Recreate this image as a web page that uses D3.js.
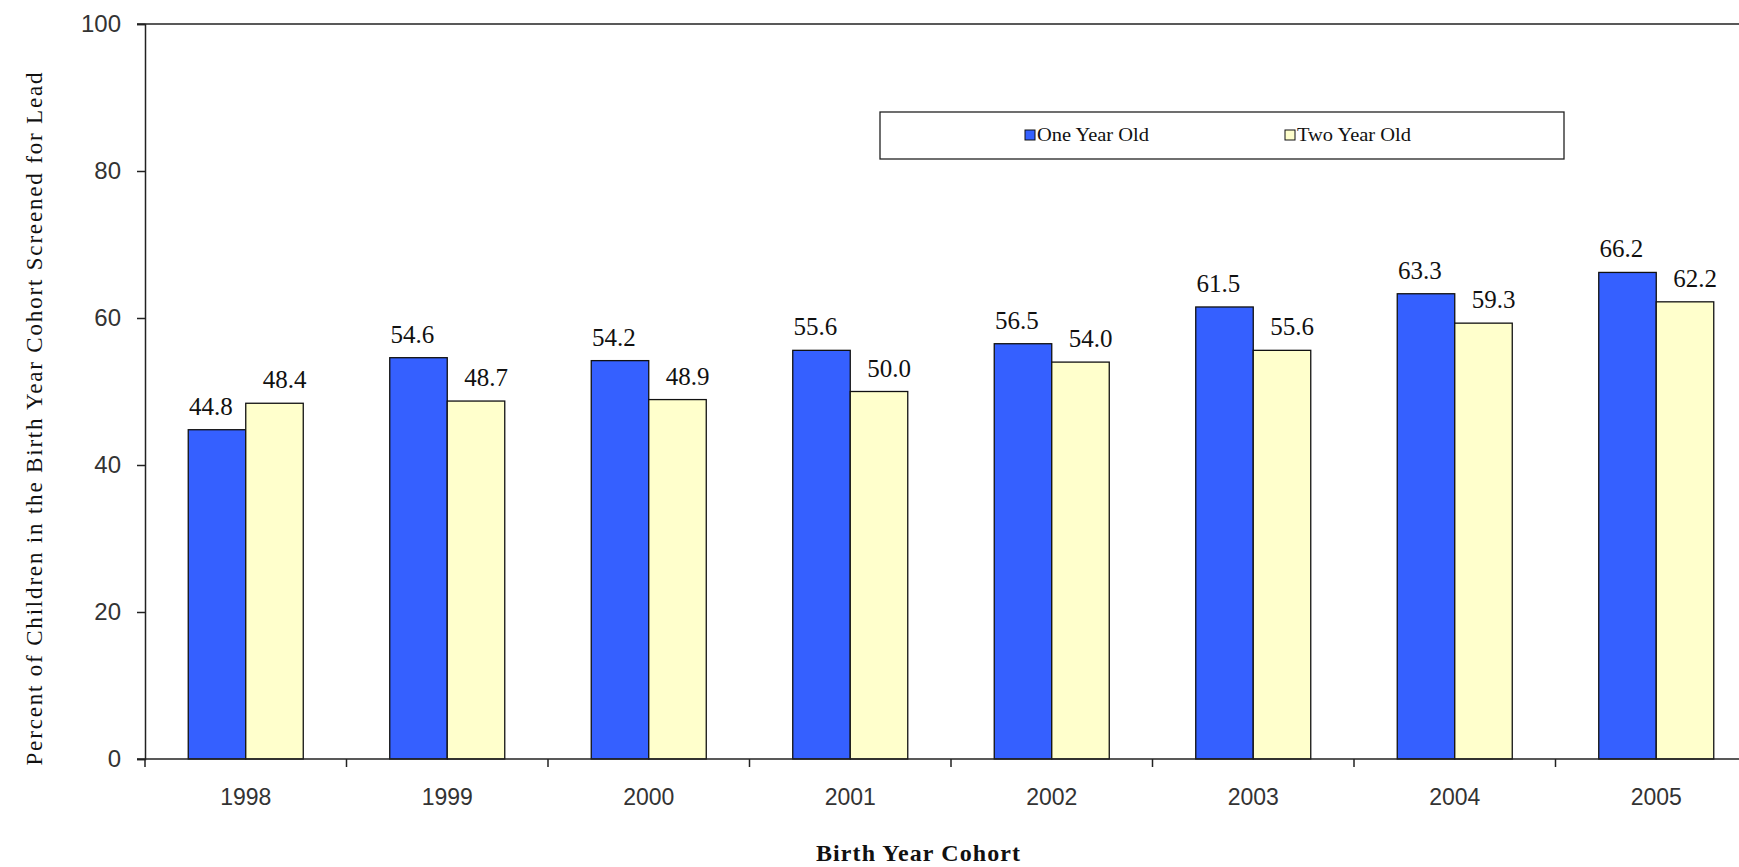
<!DOCTYPE html>
<html>
<head>
<meta charset="utf-8">
<script src="https://cdn.jsdelivr.net/npm/d3@7"></script>
<style>
  html, body { margin: 0; padding: 0; background: #fff; }
  svg { display: block; }
</style>
</head>
<body>
<svg id="chart" width="1739" height="867"></svg>
<script>
// Lead screening by birth year cohort
const years = ["1998", "1999", "2000", "2001", "2002", "2003", "2004", "2005"];
const seriesNames = ["One Year Old", "Two Year Old"];
const oneYearOld = [44.8, 54.6, 54.2, 55.6, 56.5, 61.5, 63.3, 66.2];
const twoYearOld = [48.4, 48.7, 48.9, 50.0, 54.0, 55.6, 59.3, 62.2];
const yTicks = [0, 20, 40, 60, 80, 100];
const seriesValues = [oneYearOld, twoYearOld];
const seriesColors = ["#3560FF", "#FFFFCC"];

const W = 1739, H = 867;
const plotLeft = 145, plotTop = 24, plotBottom = 759;
const step = 201.5;

const svg = d3.select("#chart");

const x0 = d3.scaleBand()
  .domain(years)
  .range([plotLeft, plotLeft + step * years.length])
  .paddingInner(0).paddingOuter(0);

const x1 = d3.scaleBand()
  .domain(seriesNames)
  .range([0, x0.bandwidth()])
  .paddingInner(0).paddingOuter(0.752);

const y = d3.scaleLinear().domain([0, 100]).range([plotBottom, plotTop]);

// top border of the plot area
svg.append("line")
  .attr("x1", plotLeft - 8).attr("x2", W)
  .attr("y1", y(100)).attr("y2", y(100))
  .attr("stroke", "#222").attr("stroke-width", 1.5);

// bars
const groups = svg.append("g").selectAll("g")
  .data(years)
  .join("g")
  .attr("transform", d => `translate(${x0(d)},0)`);

groups.selectAll("rect")
  .data((d, i) => seriesNames.map((s, k) => ({ s, k, v: seriesValues[k][i] })))
  .join("rect")
  .attr("x", d => x1(d.s))
  .attr("y", d => y(d.v))
  .attr("width", x1.bandwidth())
  .attr("height", d => y(0) - y(d.v))
  .attr("fill", d => seriesColors[d.k])
  .attr("stroke", "#111")
  .attr("stroke-width", 1.3);

// value labels: the first series sits a little left, the second a little right
groups.selectAll("text")
  .data((d, i) => seriesNames.map((s, k) => ({ s, k, v: seriesValues[k][i] })))
  .join("text")
  .attr("x", d => x1(d.s) + x1.bandwidth() / 2 + (d.k === 1 ? 10 : -6))
  .attr("y", d => y(d.v) - 15)
  .attr("text-anchor", "middle")
  .attr("font-family", "'Liberation Serif', 'Times New Roman', serif")
  .attr("font-size", 25)
  .attr("fill", "#111")
  .text(d => d.v.toFixed(1));

// y axis
const yAxis = svg.append("g")
  .attr("transform", `translate(${plotLeft},0)`)
  .call(d3.axisLeft(y).tickValues(yTicks).tickSize(8).tickPadding(16).tickFormat(d3.format("d")));
yAxis.select(".domain").attr("stroke", "#222").attr("stroke-width", 1.5);
yAxis.selectAll(".tick line").attr("stroke", "#222").attr("stroke-width", 1.5);
yAxis.selectAll(".tick text")
  .attr("font-family", "'Liberation Sans', Arial, sans-serif")
  .attr("font-size", 24)
  .attr("fill", "#333");

// x axis with ticks at category boundaries
const xAxis = svg.append("g")
  .attr("transform", `translate(0,${plotBottom})`);
xAxis.append("line")
  .attr("x1", plotLeft - 8).attr("x2", W)
  .attr("y1", 0).attr("y2", 0)
  .attr("stroke", "#222").attr("stroke-width", 1.5);
xAxis.selectAll("line.tk")
  .data(years)
  .join("line")
  .attr("class", "tk")
  .attr("x1", d => x0(d)).attr("x2", d => x0(d))
  .attr("y1", 0).attr("y2", 8)
  .attr("stroke", "#222").attr("stroke-width", 1.5);
xAxis.selectAll("text")
  .data(years)
  .join("text")
  .attr("x", d => x0(d) + x0.bandwidth() / 2)
  .attr("y", 46)
  .attr("text-anchor", "middle")
  .attr("font-family", "'Liberation Sans', Arial, sans-serif")
  .attr("font-size", 23)
  .attr("fill", "#333")
  .text(d => d);

// axis titles
svg.append("text")
  .attr("transform", `translate(42,419) rotate(-90)`)
  .attr("text-anchor", "middle")
  .attr("font-family", "'Liberation Serif', 'Times New Roman', serif")
  .attr("font-size", 23)
  .attr("fill", "#111")
  .attr("textLength", 693)
  .attr("lengthAdjust", "spacing")
  .text("Percent of Children in the Birth Year Cohort Screened for Lead");

svg.append("text")
  .attr("x", 918).attr("y", 861)
  .attr("text-anchor", "middle")
  .attr("font-family", "'Liberation Serif', 'Times New Roman', serif")
  .attr("font-weight", "bold")
  .attr("font-size", 24)
  .attr("fill", "#111")
  .attr("textLength", 204)
  .attr("lengthAdjust", "spacing")
  .text("Birth Year Cohort");

// legend
const legend = svg.append("g");
legend.append("rect")
  .attr("x", 880).attr("y", 112)
  .attr("width", 684).attr("height", 47)
  .attr("fill", "#fff")
  .attr("stroke", "#222").attr("stroke-width", 1.3);

const legendX = [1025, 1285];
seriesNames.forEach((s, k) => {
  legend.append("rect")
    .attr("x", legendX[k]).attr("y", 130)
    .attr("width", 10).attr("height", 10)
    .attr("fill", seriesColors[k])
    .attr("stroke", "#111").attr("stroke-width", 1);
  legend.append("text")
    .attr("x", legendX[k] + 12).attr("y", 141)
    .attr("font-family", "'Liberation Serif', 'Times New Roman', serif")
    .attr("font-size", 18)
    .attr("fill", "#111")
    .attr("textLength", k === 0 ? 112 : 114)
    .attr("lengthAdjust", "spacingAndGlyphs")
    .text(s);
});
</script>
</body>
</html>
